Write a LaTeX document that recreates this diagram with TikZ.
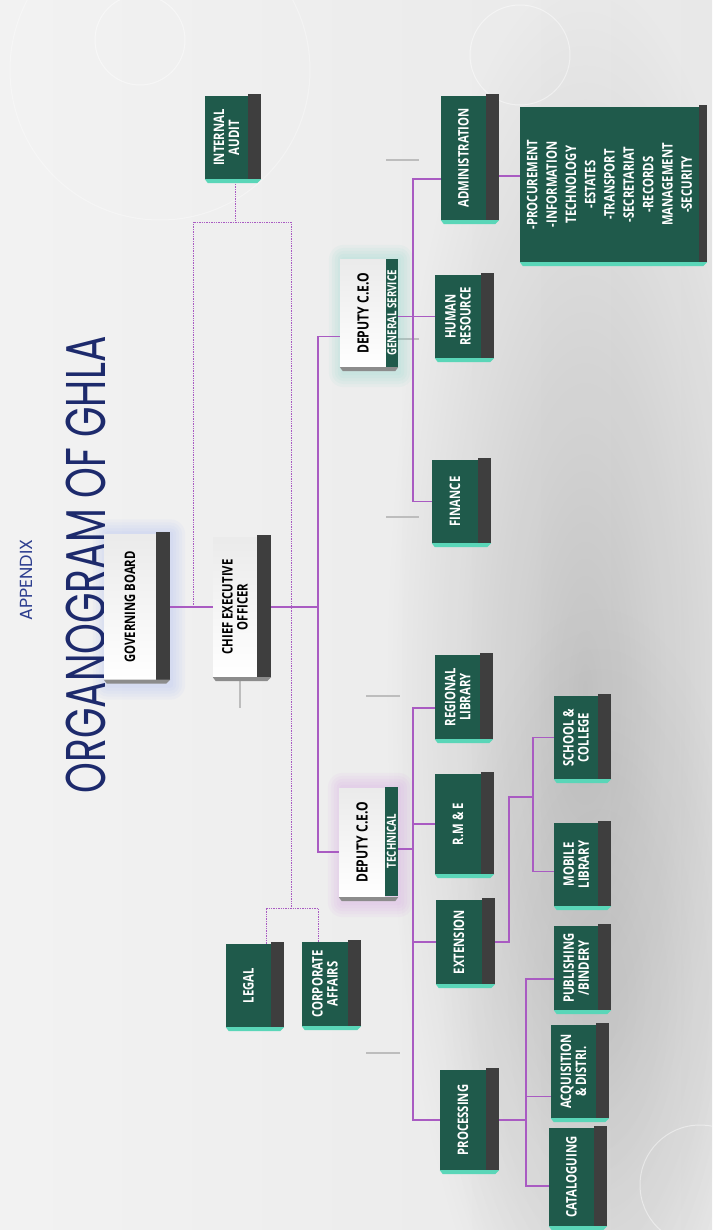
\documentclass[tikz,border=0pt]{standalone}
\usepackage{fontspec}
\usepackage{graphicx}
\setmainfont{Open Sans}
\newfontfamily\titlefont{Poppins}
\usetikzlibrary{fadings}

\pgfdeclarelayer{bg}
\pgfdeclarelayer{edges}
\pgfsetlayers{bg,edges,main}

\definecolor{facegreen}{HTML}{1F5A4B}
\definecolor{sidegray}{HTML}{3E3E3E}
\definecolor{baseteal}{HTML}{5AD6B8}
\definecolor{basegray}{HTML}{8C8C8C}
\definecolor{linkpurple}{HTML}{A95BC2}
\definecolor{titleblue}{HTML}{1D2A6C}
\definecolor{appendixblue}{HTML}{2E3F8F}
\definecolor{decorgray}{HTML}{BDBDBD}
\definecolor{glowblue}{HTML}{9FB4F0}
\definecolor{glowteal}{HTML}{7FD8C8}
\definecolor{glowpurple}{HTML}{D59BE6}

\tikzfading[name=softblob, inner color=transparent!0, outer color=transparent!100]

\tikzset{
  orgbox/.style={rotate=90, xscale=0.78, inner sep=0pt, align=center,
    font=\bfseries\fontsize{14.5}{15}\selectfont},
  boxdim/.style 2 args={minimum width={#1pt/0.78}, minimum height=#2pt},
  gbox/.style={orgbox, fill=facegreen, text=white},
  wbox/.style={orgbox, top color=black!8, bottom color=white, text=black},
  stripbox/.style={rotate=90, xscale=0.78, inner sep=0pt, fill=facegreen, text=white,
    font=\bfseries\fontsize{12.5}{13}\selectfont},
  link/.style={draw=linkpurple, line width=1.1pt},
  dotlink/.style={draw=linkpurple, line width=0.9pt, dash pattern=on 1.4pt off 1pt},
  decor/.style={draw=decorgray, line width=1.3pt},
}

% side and base of a box: node, side width, side colour, base colour
\newcommand\boxslab[4]{%
  \fill[#3] ([shift={(0,-2)}]#1.south east) -- ++(#2,0)
    -- ([shift={(#2,0)}]#1.south west) -- (#1.south west) -- cycle;
  \fill[#4] (#1.north west) -- ([shift={(#2,0)}]#1.south west)
    -- ++(-4,4) -- ([shift={(3,4)}]#1.north west) -- cycle;
}

\begin{document}
\begin{tikzpicture}[x=1pt, y=-1pt]
  \useasboundingbox (0,0) rectangle (712,1230);

  % title
  \node[rotate=90, anchor=base, text=appendixblue,
    font=\titlefont\fontsize{17.5}{20}\selectfont] (appendix) at (32,580) {APPENDIX};
  \node[rotate=90, anchor=base, text=titleblue,
    font=\titlefont\fontsize{56}{60}\selectfont] (title) at (105,565)
    {\scalebox{0.7}[1]{ORGANOGRAM OF GHLA}};

  % top of the chart
  \node[wbox, boxdim={145}{52}] (gb) at (130,607) {GOVERNING BOARD};
  \node[wbox, boxdim={140}{44}] (ceo) at (235,607) {CHIEF EXECUTIVE\\OFFICER};
  \node[gbox, boxdim={83}{43}] (audit) at (226.5,137.5) {INTERNAL\\AUDIT};
  \node[gbox, boxdim={83}{45}] (legal) at (248.5,985.5) {LEGAL};
  \node[gbox, boxdim={84}{46}] (corp) at (325,984) {CORPORATE\\AFFAIRS};

  % deputies
  \node[wbox, boxdim={107}{46}, font=\bfseries\fontsize{15.5}{16}\selectfont] (depgen) at (363,313.5) {DEPUTY C.E.O};
  \node[stripbox, boxdim={108}{12}] (depgenstrip) at (392,313) {GENERAL SERVICE};
  \node[wbox, boxdim={109}{46}, font=\bfseries\fontsize{15.5}{16}\selectfont] (deptech) at (362,842.5) {DEPUTY C.E.O};
  \node[stripbox, boxdim={109}{13}] (deptechstrip) at (391.5,841) {TECHNICAL};

  % general service
  \node[gbox, boxdim={124}{45}] (admin) at (463.5,158) {ADMINISTRATION};
  \node[gbox, boxdim={155}{179},
    font=\bfseries\fontsize{14.5}{19.3}\selectfont] (adminlist) at (609.5,184.5)
    {-PROCUREMENT\\-INFORMATION\\TECHNOLOGY\\-ESTATES\\-TRANSPORT\\-SECRETARIAT\\-RECORDS\\MANAGEMENT\\-SECURITY};
  \node[gbox, boxdim={83}{46}] (hr) at (458,316.5) {HUMAN\\RESOURCE};
  \node[gbox, boxdim={83}{46}] (finance) at (455,501.5) {FINANCE};

  % technical
  \node[gbox, boxdim={84}{45}] (regional) at (457.5,697) {REGIONAL\\LIBRARY};
  \node[gbox, boxdim={100}{46}] (rme) at (458,824) {R.M \& E};
  \node[gbox, boxdim={84}{46}] (extension) at (459,942) {EXTENSION};
  \node[gbox, boxdim={100}{46}] (processing) at (463,1120) {PROCESSING};
  \node[gbox, boxdim={83}{44}] (school) at (576,737.5) {SCHOOL \&\\COLLEGE};
  \node[gbox, boxdim={83}{44}] (mobile) at (576,864.5) {MOBILE\\LIBRARY};
  \node[gbox, boxdim={84}{44}] (publishing) at (576,968) {PUBLISHING\\/BINDERY};
  \node[gbox, boxdim={93}{45}] (acquisition) at (573.5,1071.5) {ACQUISITION\\\& DISTRI.};
  \node[gbox, boxdim={98}{45}] (cataloguing) at (571.5,1177) {CATALOGUING};

  % sides and bases
  \boxslab{gb}{14}{sidegray}{basegray}
  \boxslab{ceo}{14}{sidegray}{basegray}
  \foreach \n in {audit,legal,corp,admin,hr,finance,regional,rme,extension,
    processing,school,mobile,publishing,acquisition,cataloguing}
    {\boxslab{\n}{13}{sidegray}{baseteal}}
  \boxslab{adminlist}{8}{sidegray}{baseteal}
  \fill[basegray] (depgen.north west) -- ([shift={(12,0)}]depgen.south west)
    -- ++(-3,4) -- ([shift={(3,4)}]depgen.north west) -- cycle;
  \fill[basegray] (deptech.north west) -- ([shift={(13,0)}]deptech.south west)
    -- ++(-3,4) -- ([shift={(3,4)}]deptech.north west) -- cycle;

  \begin{pgfonlayer}{edges}
    \coordinate (dotA) at (193,607);
    \coordinate (dotTR) at (291,222);
    \coordinate (dotB) at (291,908);
    \coordinate (ceoTrunk) at (318,607);
    \coordinate (gsFoot) at (413,501.5);
    \coordinate (techFoot) at (413,1120);
    \coordinate (extUp) at (509,797);
    \coordinate (extSub) at (533,797);
    \coordinate (procSub) at (526,1120);

    \draw[link] ([xshift=14pt]gb.south) -- (ceo.north);
    \draw[link] ([xshift=14pt]ceo.south) -- (ceoTrunk);
    \draw[link] ([yshift=-23pt]depgen.north) -| (ceoTrunk) |- ([yshift=-9.5pt]deptech.north);

    \draw[dotlink] (dotA) |- (dotTR) -- (dotB);
    \draw[dotlink] ([xshift=8.5pt]audit.west) -- +(0,43);
    \draw[dotlink] ([xshift=17.5pt]legal.east) |- (dotB) -| ([xshift=-7pt]corp.east);

    \draw[link] ([yshift=-21pt]admin.north) -| (gsFoot) -- (finance.north);
    \draw[link] (depgenstrip.south |- hr.north) -- (hr.north);
    \draw[link] ([xshift=13pt,yshift=-18pt]admin.south) -- ++(21,0);

    \draw[link] ([yshift=-11pt]regional.north) -| (techFoot) -- (processing.north);
    \draw[link] ([yshift=-8pt]deptechstrip.south) -- ++(15,0);
    \draw[link] (rme.north) -- (rme.north -| techFoot);
    \draw[link] (extension.north) -- (extension.north -| techFoot);

    \draw[link] ([xshift=13pt]extension.south) -| (extUp) -- (extSub);
    \draw[link] (school.north) -| (extSub) |- ([yshift=-7pt]mobile.north);

    \draw[link] ([xshift=13pt]processing.south) -- (procSub);
    \draw[link] ([yshift=-11pt]publishing.north) -| (procSub) |- ([yshift=-9pt]cataloguing.north);
    \draw[link] ([yshift=-25pt]acquisition.north) -- +(-25,0);
  \end{pgfonlayer}

  \begin{pgfonlayer}{bg}
    \shade[left color=black!5, right color=black!9] (0,0) rectangle (712,1230);
    \begin{scope}
      \clip (0,0) rectangle (712,1230);
      \fill[black, opacity=0.16, path fading=softblob] (585,690) ellipse (200 and 720);
      \fill[black, opacity=0.08, path fading=softblob] (600,1000) ellipse (160 and 400);
      \draw[white, opacity=0.45, line width=1pt] (140,40) circle (45);
      \draw[white, opacity=0.35, line width=1pt] (160,70) circle (150);
      \draw[white, opacity=0.45, line width=1pt] (520,55) circle (50);
      \draw[white, opacity=0.45, line width=1pt] (700,1185) circle (60);
    \end{scope}
    \draw[decor] (386,160) -- +(33,0);
    \draw[decor] (387,339) -- +(32,0);
    \draw[decor] (386,517) -- +(33,0);
    \draw[decor] (366,696) -- +(34,0);
    \draw[decor] (366,1053) -- +(34,0);
    \draw[decor] (240,680) -- +(0,28);
    \foreach \r in {3,6,...,15} {
      \fill[glowblue, opacity=0.07, rounded corners=\r pt]
        ([shift={(-\r+4,-\r)}]gb.north east) rectangle ([shift={(14+\r,5+\r)}]gb.south west);
      \fill[glowteal, opacity=0.07, rounded corners=\r pt]
        ([shift={(-\r+4,-\r)}]depgen.north east) rectangle ([shift={(12+\r,5+\r)}]depgen.south west);
      \fill[glowpurple, opacity=0.08, rounded corners=\r pt]
        ([shift={(-\r+4,-\r)}]deptech.north east) rectangle ([shift={(13+\r,5+\r)}]deptech.south west);
    }
  \end{pgfonlayer}
\end{tikzpicture}
\end{document}
